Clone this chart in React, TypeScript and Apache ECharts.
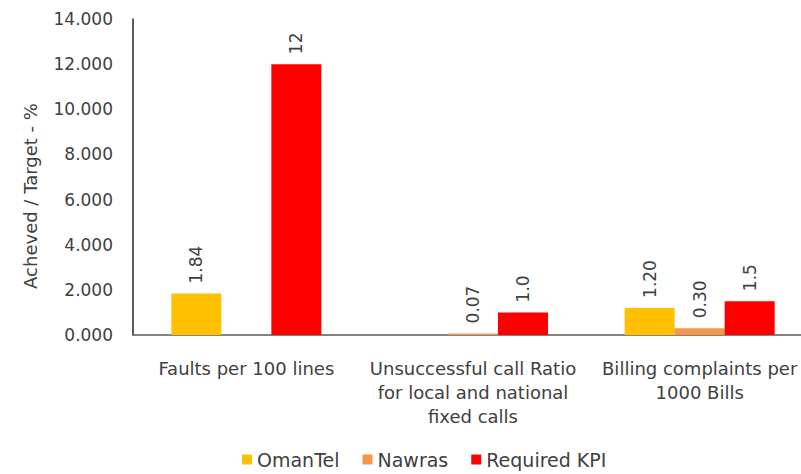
import React, { useEffect, useRef } from "react";
import * as echarts from "echarts";

const categories = [
  "Faults per 100 lines",
  "Unsuccessful call Ratio\nfor local and national\nfixed calls",
  "Billing complaints per\n1000 Bills",
];
const seriesNames = ["OmanTel", "Nawras", "Required KPI"];
const omantelValues: (number | null)[] = [1.84, null, 1.2];
const nawrasValues: (number | null)[] = [null, 0.07, 0.3];
const kpiValues: (number | null)[] = [12, 1.0, 1.5];
const omantelLabels = ["1.84", "", "1.20"];
const nawrasLabels = ["", "0.07", "0.30"];
const kpiLabels = ["12", "1.0", "1.5"];
const yTitle = "Acheved / Target - %";
const colors = ["#FFC000", "#F79646", "#FF0000"];

const FONT = "DejaVu Sans";
const TEXT = "#404040";

export default function App() {
  const ref = useRef<HTMLDivElement>(null);
  useEffect(() => {
    if (!ref.current) return;
    const chart = echarts.init(ref.current, null, { renderer: "svg" });
    const mk = (name: string, vals: (number | null)[], labels: string[], color: string) => ({
      name,
      type: "bar",
      barWidth: 50,
      barGap: "0%",
      itemStyle: { color },
      data: vals.map((v) => (v === null ? "-" : v)),
      label: {
        show: true,
        position: "top",
        rotate: 90,
        align: "left",
        verticalAlign: "middle",
        distance: 10,
        fontFamily: FONT,
        fontSize: 17,
        color: TEXT,
        formatter: (p: any) => labels[p.dataIndex],
      },
    });
    chart.setOption({
      animation: false,
      textStyle: { fontFamily: FONT },
      grid: { left: 133, right: 0, top: 19, bottom: 139, containLabel: false },
      legend: {
        bottom: 0,
        left: 237,
        icon: "rect",
        itemWidth: 10,
        itemHeight: 10,
        itemGap: 23,
        textStyle: { fontFamily: FONT, fontSize: 19, color: TEXT },
        data: seriesNames,
      },
      graphic: [
        {
          type: "text",
          x: 30,
          y: 196,
          rotation: Math.PI / 2,
          style: {
            text: yTitle,
            fontFamily: FONT,
            fontSize: 18,
            fill: TEXT,
            align: "center",
            verticalAlign: "middle",
          },
        },
      ],
      xAxis: {
        type: "category",
        data: categories,
        axisTick: { show: false },
        axisLine: { lineStyle: { color: "#595959", width: 1.5 } },
        axisLabel: {
          interval: 0,
          margin: 21,
          fontFamily: FONT,
          fontSize: 18,
          color: TEXT,
          lineHeight: 24,
        },
      },
      yAxis: {
        type: "value",
        min: 0,
        max: 14,
        interval: 2,
        axisLine: { show: true, lineStyle: { color: "#262626", width: 1.5 } },
        axisTick: { show: false },
        splitLine: { show: false },
        axisLabel: {
          margin: 20,
          fontFamily: FONT,
          fontSize: 17,
          color: TEXT,
          formatter: (v: number) => v.toFixed(3),
        },
      },
      series: [
        mk(seriesNames[0], omantelValues, omantelLabels, colors[0]),
        mk(seriesNames[1], nawrasValues, nawrasLabels, colors[1]),
        mk(seriesNames[2], kpiValues, kpiLabels, colors[2]),
      ],
    });
    return () => chart.dispose();
  }, []);
  return (
    <div
      style={{ position: "absolute", left: 0, top: 0, width: 801, height: 474, overflow: "hidden", background: "#fff" }}
    >
      <div ref={ref} style={{ width: 813, height: 474 }} />
    </div>
  );
}
